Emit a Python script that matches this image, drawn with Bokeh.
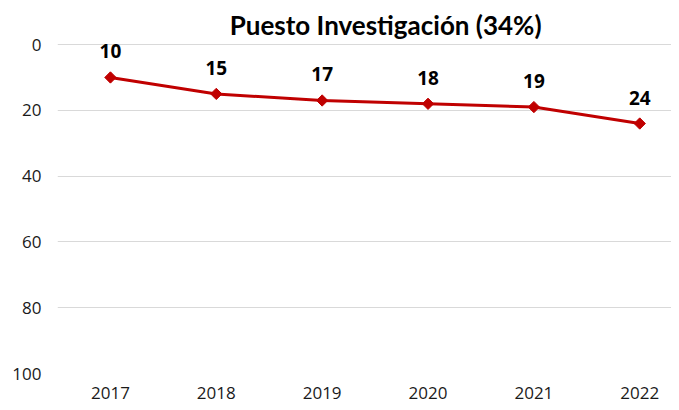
import math
from bokeh.plotting import figure
from bokeh.models import Range1d, FixedTicker, ColumnDataSource, Label
from bokeh.core.properties import value
from bokeh.embed import file_html
from bokeh.resources import INLINE

years = ["2017", "2018", "2019", "2020", "2021", "2022"]
puesto = [10, 15, 17, 18, 19, 24]
y_ticks = [0, 20, 40, 60, 80, 100]
title_text = "Puesto Investigación (34%)"

idx = list(range(len(years)))
src = ColumnDataSource(dict(x=idx, y=puesto, lbl=[str(v) for v in puesto]))

p = figure(width=671, height=402, output_backend="svg", toolbar_location=None,
           x_range=Range1d(-0.5, 5.30), y_range=Range1d(100, -13.4),
           min_border_left=57, min_border_right=0, min_border_top=0,
           min_border_bottom=29)
p.outline_line_color = None
p.background_fill_color = "white"
p.border_fill_color = "white"

# axes
p.xaxis.ticker = FixedTicker(ticks=idx)
p.xaxis.major_label_overrides = {i: y for i, y in zip(idx, years)}
p.yaxis.ticker = FixedTicker(ticks=y_ticks)
for ax in (p.xaxis[0], p.yaxis[0]):
    ax.axis_line_color = None
    ax.major_tick_line_color = None
    ax.minor_tick_line_color = None
    ax.major_tick_out = 0
    ax.major_tick_in = 0
    ax.major_label_text_font = "Open Sans"
    ax.major_label_text_font_size = "17px"
    ax.major_label_text_color = "#1a1a1a"
p.xaxis.major_label_standoff = 13
p.yaxis.major_label_standoff = 16

p.xgrid.visible = False
p.ygrid.ticker = FixedTicker(ticks=y_ticks)
p.ygrid.grid_line_color = "#d9d9d9"
p.ygrid.grid_line_width = 1

p.line("x", "y", source=src, line_color="#c00000", line_width=3)
p.scatter("x", "y", source=src, marker="square", size=8, angle=math.pi / 4,
          fill_color="#c00000", line_color="#c00000", line_width=1)
p.text("x", "y", text="lbl", source=src, text_align="center",
       text_baseline="middle", y_offset=-26,
       text_font=value("Open Sans"), text_font_style="bold",
       text_font_size="19px", text_color="black")

p.add_layout(Label(x=2.6, y=-5.8, text=title_text, text_align="center",
                   text_baseline="middle", text_font="Lato",
                   text_font_style="bold", text_font_size="26px",
                   text_color="black"))

open("out.html", "w").write(file_html(p, INLINE))
